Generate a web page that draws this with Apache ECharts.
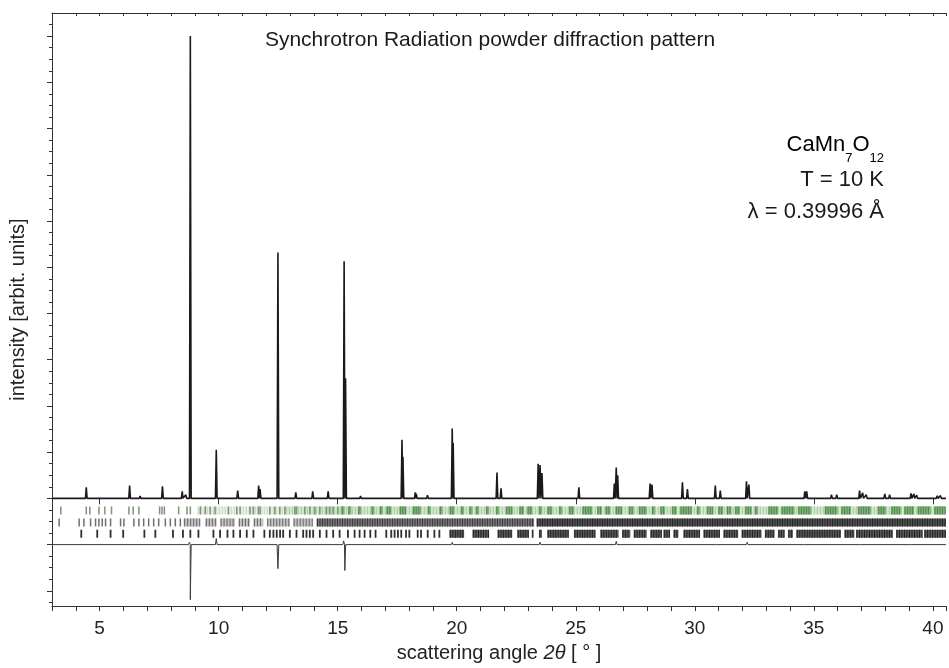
<!DOCTYPE html>
<html>
<head>
<meta charset="utf-8">
<script src="https://cdn.jsdelivr.net/npm/echarts@6/dist/echarts.min.js"></script>
<style>
html, body { margin: 0; padding: 0; background: #fff; }
#main { width: 949px; height: 668px; }
</style>
</head>
<body>
<div id="main"></div>
<script>
// observed / calculated profile: peak positions (2theta, deg) and heights (arb. units)
var peakPos = [4.44, 6.26, 6.70, 7.64, 8.47, 8.62, 8.81, 9.90, 10.80, 11.68, 11.74, 12.49, 13.24, 13.95, 14.60,
    15.27, 15.33, 15.96, 17.70, 17.74, 18.26, 18.30, 18.77, 19.81, 19.85, 21.69, 21.86, 23.42, 23.50, 23.58,
    25.13, 26.62, 26.70, 26.76, 28.12, 28.20, 29.48, 29.69, 30.86, 31.07, 32.17, 32.27, 34.62, 34.70, 35.74,
    35.96, 36.92, 37.05, 37.20, 37.98, 38.18, 39.08, 39.20, 39.32, 40.18, 40.32];
var peakHeight = [0.24, 0.28, 0.05, 0.26, 0.15, 0.08, 10.0, 1.05, 0.17, 0.28, 0.20, 5.32, 0.13, 0.15, 0.15,
    5.13, 2.60, 0.05, 1.27, 0.90, 0.13, 0.10, 0.07, 1.51, 1.20, 0.56, 0.22, 0.75, 0.72, 0.55,
    0.24, 0.32, 0.67, 0.50, 0.32, 0.30, 0.35, 0.20, 0.28, 0.17, 0.37, 0.30, 0.15, 0.15, 0.08,
    0.08, 0.17, 0.12, 0.08, 0.10, 0.08, 0.11, 0.10, 0.07, 0.06, 0.06];

// difference curve (obs - calc)
var diffPos = [8.77, 8.81, 9.90, 12.49, 15.25, 15.30, 17.70, 19.81, 21.69, 23.50, 25.13, 26.70, 28.15, 29.50,
    30.90, 32.20, 34.65, 37.00, 39.10];
var diffValue = [0.05, -1.19, 0.13, -0.52, 0.08, -0.56, 0.04, 0.05, 0.03, 0.05, 0.03, 0.07, 0.03, 0.04,
    0.04, 0.05, 0.03, 0.03, 0.03];

// reflection markers, phase 1 (green row)
var rowATicks = [3.37, 4.44, 4.59, 4.97, 5.22, 5.50, 6.23, 6.41, 6.65, 7.52, 7.62, 7.72, 8.32, 8.67, 8.81,
    9.23, 9.44, 9.64, 9.85, 10.41, 10.76, 10.90, 11.32, 11.46, 11.67, 11.74, 12.15, 12.36, 12.57, 12.78,
    13.20, 13.27, 13.62, 13.83, 14.04, 14.25, 14.53, 14.67, 14.81, 15.01];
var rowABlocks = [[15.15, 15.29], [15.43, 15.57], [15.85, 15.99], [16.41, 16.55], [16.76, 16.90], [17.04, 17.25],
    [17.59, 17.87], [18.15, 18.50], [18.78, 18.92], [19.27, 19.41], [19.69, 19.90], [20.17, 20.31],
    [20.52, 20.66], [20.80, 20.94], [21.22, 21.36], [21.64, 21.78], [22.06, 22.34], [22.62, 22.82],
    [22.96, 23.17], [23.45, 23.59], [23.80, 24.01], [24.29, 24.43], [24.71, 24.92], [25.27, 25.68],
    [25.89, 26.10], [26.24, 26.45], [26.66, 26.94], [27.22, 27.43], [27.64, 27.99], [28.19, 28.33],
    [28.54, 28.75], [29.03, 29.24], [29.38, 29.87], [30.08, 30.22], [30.50, 30.77], [30.98, 31.19],
    [31.33, 31.54], [31.68, 31.89], [32.10, 32.38], [32.52, 32.66], [33.08, 33.49], [33.63, 34.19],
    [34.33, 34.89], [35.45, 36.00], [36.14, 36.56], [36.84, 37.40], [37.68, 38.03], [38.24, 38.65],
    [38.79, 39.21], [39.35, 39.91], [40.05, 40.54]];
var rowABand = [[9.1, 12.8], [12.8, 40.55]];

// reflection markers, phase 2
var rowBTicks = [3.30, 4.14, 4.34, 4.62, 4.83, 4.97, 5.11, 5.25, 5.46, 5.88, 6.02, 6.44, 6.65, 6.85, 7.06,
    7.27, 7.48, 7.76, 7.97, 8.18, 8.39];
var rowBBlocks = [[8.53, 9.23], [9.44, 9.92], [10.06, 10.69], [10.83, 11.32], [11.46, 11.88], [12.02, 12.99],
    [13.13, 13.97], [14.11, 23.25], [23.35, 40.55]];

// reflection markers, phase 3
var rowCTicks = [4.23, 4.90, 5.46, 5.99, 6.88, 7.34, 8.08, 8.50, 8.81, 9.15, 9.78, 10.06, 10.37, 10.62, 10.90,
    11.18, 11.46, 11.92, 12.15, 12.30, 12.44, 12.58, 12.71, 12.99, 13.27, 13.55, 13.69, 13.83, 13.97, 14.25,
    14.53, 14.81, 15.08, 15.43, 15.71, 15.92, 16.13, 16.37, 16.59, 17.04, 17.25, 17.39, 17.53, 17.67, 17.87,
    18.01, 18.36, 18.50, 18.78, 19.06, 19.27];
var rowCBlocks = [[19.69, 20.31], [20.66, 21.36], [21.71, 22.33], [22.54, 23.03], [23.15, 23.22], [23.45, 23.58],
    [23.80, 24.70], [24.92, 25.82], [26.03, 26.80], [26.94, 27.29], [27.43, 27.98], [28.13, 28.61],
    [28.68, 28.96], [29.10, 29.31], [29.52, 30.22], [30.36, 31.05], [31.20, 31.82], [31.96, 32.80],
    [32.94, 33.35], [33.49, 33.77], [33.91, 34.12], [34.26, 36.14], [36.28, 36.70], [36.77, 38.31],
    [38.45, 39.56], [39.63, 40.55]];

var xTickLabels = [5, 10, 15, 20, 25, 30, 35, 40];

var FONT = 'Liberation Sans, Arial, Helvetica, sans-serif';
var X_MIN = 3, X_MAX = 40.55;
var DIFF_OFFSET = -1;
var ROW_Y = [-0.26, -0.52, -0.765];

// build spike profile from peak list
function profile(pos, val, base, hw) {
    var pts = [[X_MIN, base]];
    for (var i = 0; i < pos.length; i++) {
        pts.push([pos[i] - hw, base]);
        pts.push([pos[i], base + val[i]]);
        pts.push([pos[i] + hw, base]);
    }
    pts.push([X_MAX, base]);
    return pts;
}

function tickSeries(list, yc, color, w) {
    return {
        type: 'custom',
        silent: true,
        clip: true,
        z: 4,
        data: list.map(function (v) { return [v, yc]; }),
        encode: {x: 0, y: 1},
        renderItem: function (params, api) {
            var p = api.coord([api.value(0), api.value(1)]);
            return {
                type: 'rect',
                shape: {x: p[0] - w / 2, y: p[1] - 4, width: w, height: 8},
                style: {fill: color}
            };
        }
    };
}

// dense stretches of reflections: filled strip with a hatch of thin dark lines
function blockSeries(list, yc, colorFn, z) {
    return {
        type: 'custom',
        silent: true,
        clip: true,
        z: z,
        data: list.map(function (b) { return [b[0], b[1], yc]; }),
        encode: {x: [0, 1], y: 2},
        renderItem: function (params, api) {
            var a = api.coord([api.value(0), api.value(2)]);
            var b = api.coord([api.value(1), api.value(2)]);
            var c = colorFn(api.value(0));
            var w = Math.max(b[0] - a[0], 1.2);
            var kids = [{type: 'rect', shape: {x: a[0], y: a[1] - 4, width: w, height: 8}, style: {fill: c[0]}}];
            if (c[1]) {
                for (var sx = a[0] + 0.5; sx < a[0] + w - 0.5; sx += c[2]) {
                    kids.push({type: 'rect', shape: {x: sx, y: a[1] - 4, width: 1, height: 8}, style: {fill: c[1]}});
                }
            }
            return {type: 'group', children: kids};
        }
    };
}

var majorY = [], minorY = [];
for (var k = -2; k <= 10; k++) majorY.push(k);
for (var q = -2.25; q <= 10.3; q += 0.25) {
    if (Math.abs(q - Math.round(q)) > 0.01) minorY.push(q);
}

var chart = echarts.init(document.getElementById('main'));

var axisColor = '#333';
var option = {
    animation: false,
    backgroundColor: '#fff',
    grid: {left: 52, right: 0, top: 13, bottom: 60, containLabel: false},
    xAxis: [{
        type: 'value', position: 'bottom', min: X_MIN, max: X_MAX, interval: 1,
        axisLine: {show: true, onZero: false, lineStyle: {color: axisColor, width: 1}},
        axisTick: {show: true, length: 5, inside: false, lineStyle: {color: axisColor}},
        axisLabel: {
            show: true, color: '#222', fontSize: 19, fontFamily: FONT, margin: 13,
            formatter: function (v) { return xTickLabels.indexOf(v) >= 0 ? String(v) : ''; }
        },
        splitLine: {show: false},
        name: '{n|scattering angle }{i|2θ}{n| [ ° ]}',
        nameLocation: 'middle', nameGap: 36,
        nameTextStyle: {
            color: '#222',
            rich: {
                n: {fontSize: 20, fontFamily: FONT, color: '#222'},
                i: {fontSize: 20, fontFamily: FONT, fontStyle: 'italic', color: '#222'}
            }
        }
    }, {
        type: 'value', position: 'top', min: X_MIN, max: X_MAX, interval: 1,
        axisLine: {show: true, onZero: false, lineStyle: {color: axisColor, width: 1}},
        axisTick: {show: true, length: 3, inside: true, lineStyle: {color: axisColor}},
        axisLabel: {show: false},
        splitLine: {show: false}
    }, {
        type: 'value', position: 'top', min: X_MIN, max: X_MAX,
        axisLine: {show: false},
        axisTick: {show: true, length: 6, inside: true, customValues: xTickLabels, lineStyle: {color: axisColor}},
        axisLabel: {show: false},
        splitLine: {show: false}
    }],
    yAxis: [{
        type: 'value', position: 'left', min: -2.33, max: 10.5,
        axisLine: {show: true, onZero: false, lineStyle: {color: axisColor, width: 1}},
        axisTick: {show: true, length: 5, customValues: majorY, lineStyle: {color: axisColor}},
        axisLabel: {show: false},
        splitLine: {show: false},
        name: 'intensity [arbit. units]',
        nameLocation: 'middle', nameGap: 24, nameRotate: 90,
        nameTextStyle: {fontSize: 20, fontFamily: FONT, color: '#222'}
    }, {
        type: 'value', position: 'left', min: -2.33, max: 10.5,
        axisLine: {show: false},
        axisTick: {show: true, length: 3, customValues: minorY, lineStyle: {color: axisColor}},
        axisLabel: {show: false},
        splitLine: {show: false}
    }],
    series: [
        {
            name: 'profile', type: 'line', xAxisIndex: 0, yAxisIndex: 0,
            data: profile(peakPos, peakHeight, 0, 0.035),
            showSymbol: false, symbol: 'none', silent: true, z: 5,
            lineStyle: {color: '#1a1a1a', width: 1.6}
        },
        {
            name: 'difference', type: 'line', xAxisIndex: 0, yAxisIndex: 0,
            data: profile(diffPos, diffValue, DIFF_OFFSET, 0.035),
            showSymbol: false, symbol: 'none', silent: true, z: 5,
            lineStyle: {color: '#3a3a3a', width: 1}
        },
        blockSeries(rowABand, ROW_Y[0], function (x) {
            return x < 12 ? ['#eaf2e7', '#c3d8bf', 3] : ['#d4e6cf', '#a9cba3', 3];
        }, 2),
        tickSeries(rowATicks, ROW_Y[0], '#7d9479', 1.5),
        blockSeries(rowABlocks, ROW_Y[0], function () { return ['#7fb279', '#4e8a4a', 2.5]; }, 3),
        tickSeries(rowBTicks, ROW_Y[1], '#6e6e6e', 1.5),
        blockSeries(rowBBlocks, ROW_Y[1], function (x) {
            if (x < 14) return ['#c4c4c4', '#666', 3];
            if (x < 23.3) return ['#777', '#3a3a3a', 2.5];
            return ['#505050', '#262626', 2.5];
        }, 3),
        tickSeries(rowCTicks, ROW_Y[2], '#2e2e2e', 1.8),
        blockSeries(rowCBlocks, ROW_Y[2], function () { return ['#5a5a5a', '#222', 2.5]; }, 3)
    ],
    graphic: [
        {
            type: 'text', x: 490, y: 40, z: 10,
            style: {
                text: 'Synchrotron Radiation powder diffraction pattern',
                font: '21px ' + FONT, fill: '#1a1a1a',
                align: 'center', verticalAlign: 'middle'
            }
        },
        {
            type: 'text', x: 884, y: 134, z: 10,
            style: {
                text: '{a|CaMn}{b|7}{a|O}{b|12}',
                align: 'right', verticalAlign: 'top',
                rich: {
                    a: {fontSize: 22, fontFamily: FONT, color: '#1a1a1a', lineHeight: 24, verticalAlign: 'top'},
                    b: {fontSize: 13, fontFamily: FONT, color: '#1a1a1a', lineHeight: 14, padding: [18, 0, 0, 0], verticalAlign: 'top'}
                }
            }
        },
        {
            type: 'text', x: 884, y: 180, z: 10,
            style: {
                text: 'T = 10 K', font: '22px ' + FONT, fill: '#1a1a1a',
                align: 'right', verticalAlign: 'middle'
            }
        },
        {
            type: 'text', x: 884, y: 212, z: 10,
            style: {
                text: 'λ = 0.39996 Å', font: '22px ' + FONT, fill: '#1a1a1a',
                align: 'right', verticalAlign: 'middle'
            }
        }
    ]
};

chart.setOption(option);
</script>
</body>
</html>
